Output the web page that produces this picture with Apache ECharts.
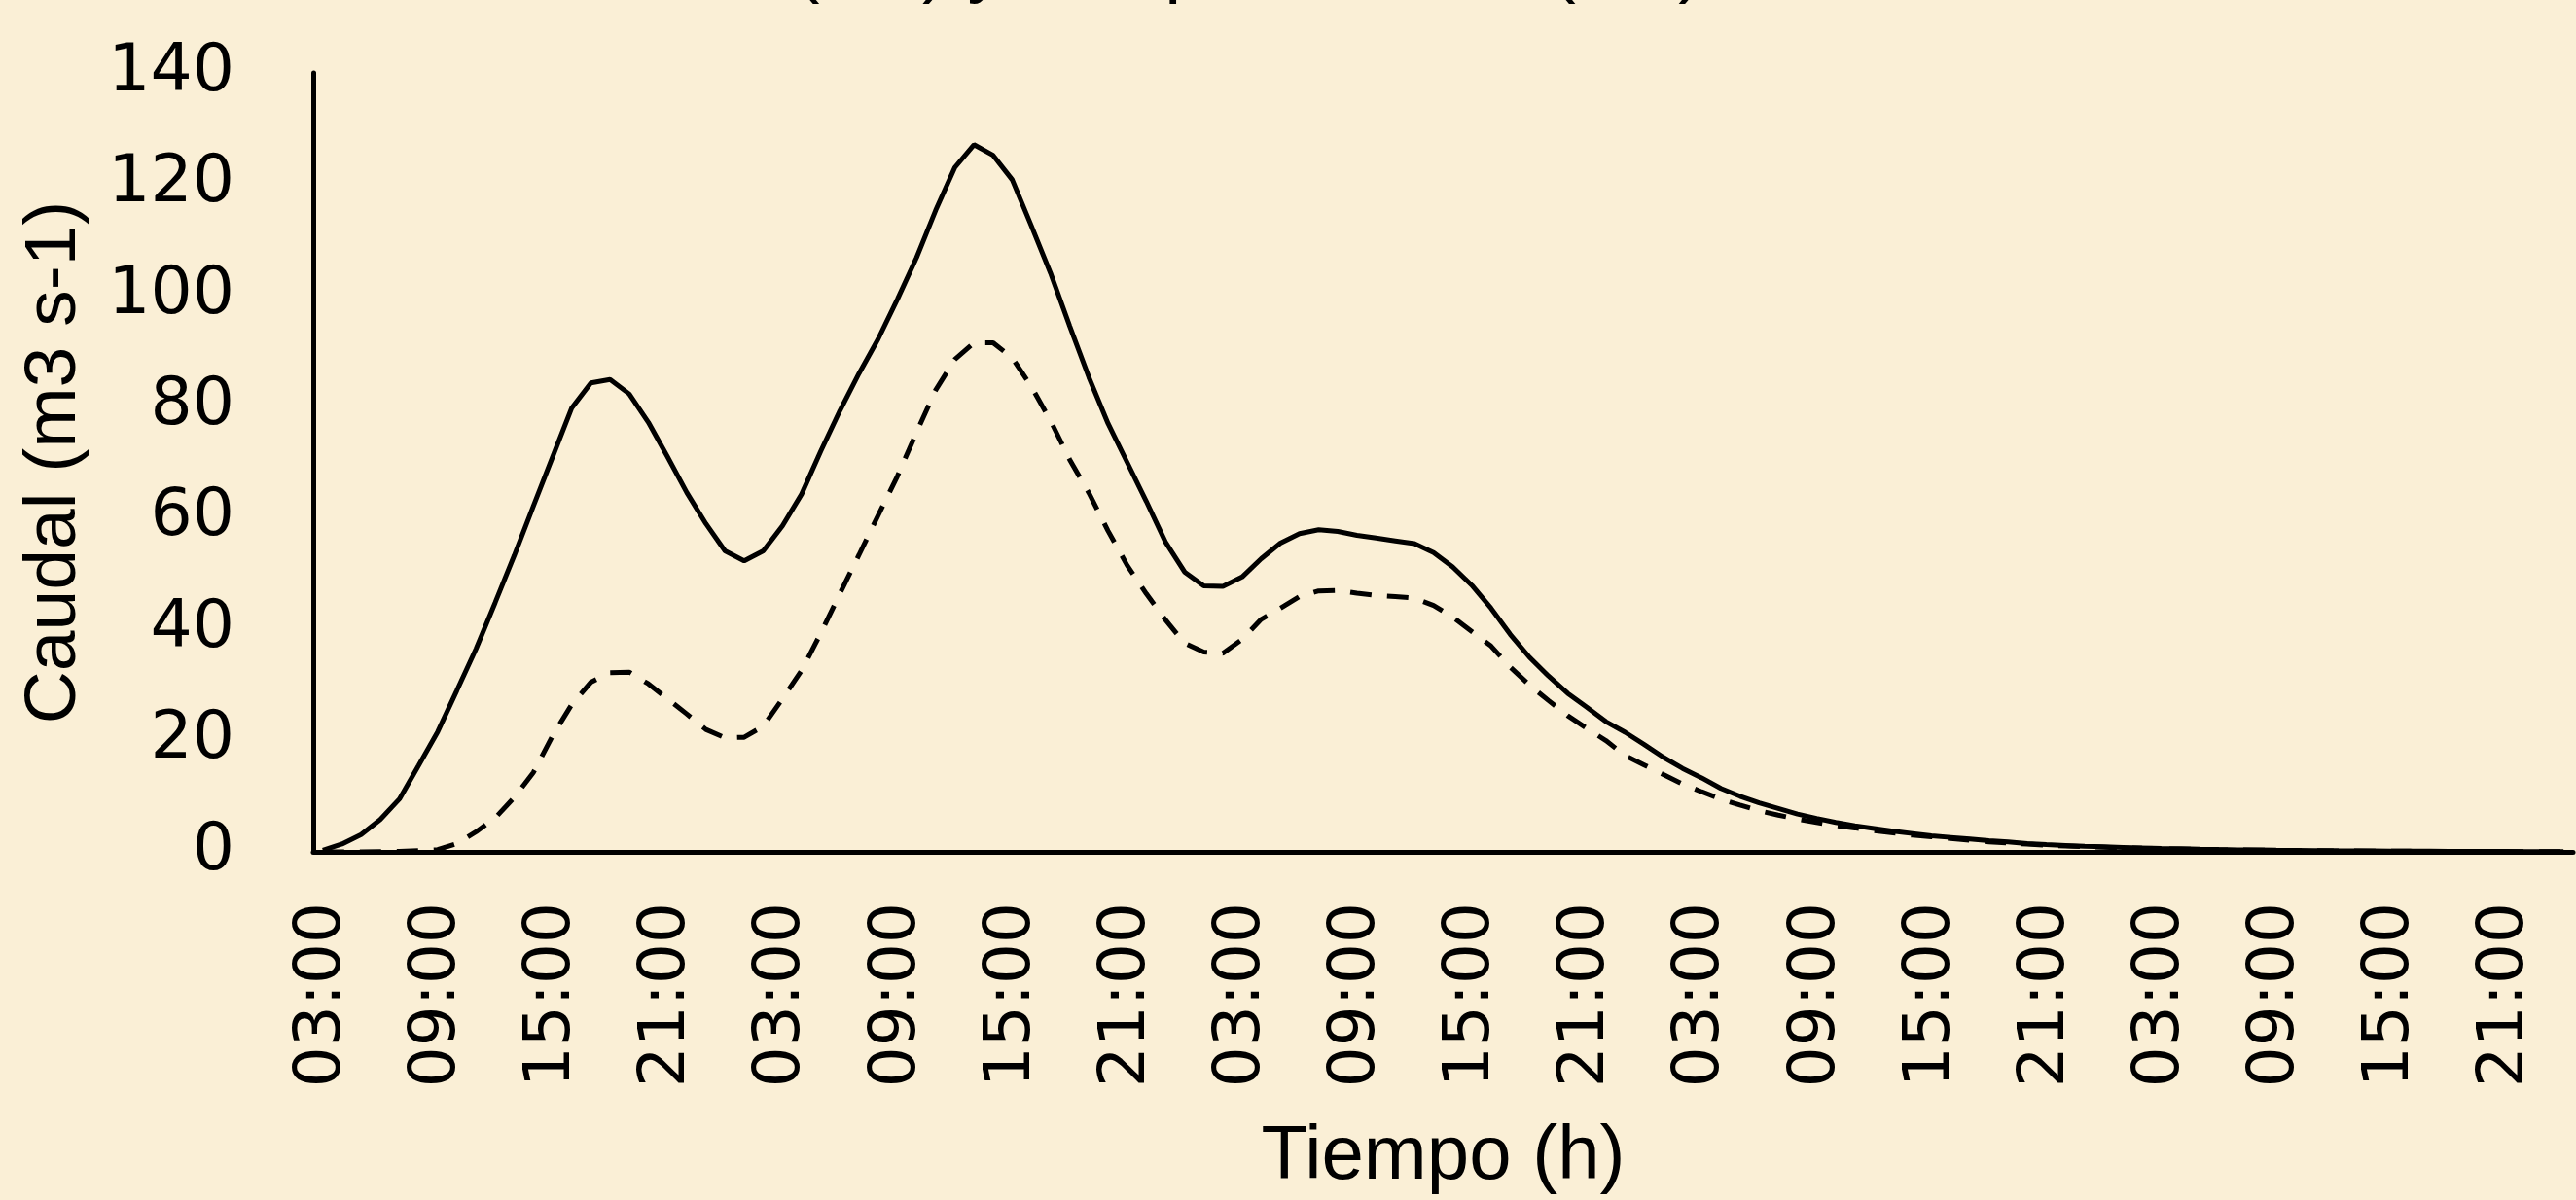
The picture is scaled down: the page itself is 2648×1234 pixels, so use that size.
<!DOCTYPE html>
<html>
<head>
<meta charset="utf-8">
<script src="https://cdn.jsdelivr.net/npm/echarts@6/dist/echarts.min.js"></script>
<style>
html, body { margin: 0; padding: 0; background: #faefd6; }
#chart { width: 2648px; height: 1234px; }
</style>
</head>
<body>
<div id="chart"></div>
<script>
// hourly series, first category is 03:00
const START_HOUR = 3
// only the bottom of the title is visible in the original
const titleText = 'Crecida, caudal (m3) y tiempo de base (hrs)'

const caudalTotal = [
    0.3, 1.4, 3.1, 5.8, 9.5, 15.5, 21.6, 29.0, 36.5, 44.8,
    53.3, 62.2, 71.0, 79.8, 84.3, 84.9, 82.3, 77.2, 71.0, 64.6,
    59.0, 54.1, 52.3, 54.1, 58.6, 64.3, 72.0, 79.3, 86.0, 92.2,
    99.3, 106.8, 115.3, 123.0, 127.1, 125.2, 120.8, 112.5, 104.0, 94.5,
    85.3, 77.0, 70.0, 63.0, 55.7, 50.3, 47.8, 47.7, 49.4, 52.7,
    55.5, 57.2, 57.9, 57.6, 56.9, 56.4, 55.9, 55.4, 53.8, 51.2,
    47.9, 43.8, 39.1, 35.0, 31.6, 28.5, 26.0, 23.4, 21.5, 19.3,
    17.0, 15.0, 13.3, 11.4, 10.0, 8.8, 7.8, 6.8, 6.0, 5.3,
    4.7, 4.2, 3.7, 3.3, 2.9, 2.6, 2.3, 2.0, 1.8, 1.5,
    1.3, 1.15, 1.0, 0.9, 0.8, 0.7, 0.62, 0.55, 0.48, 0.42,
    0.37, 0.33, 0.29, 0.26, 0.23, 0.2, 0.18, 0.16, 0.14, 0.12,
    0.11, 0.1, 0.09, 0.08, 0.07, 0.06, 0.06, 0.05
]

const caudalSuperficial = [
    0, 0, 0, 0.05, 0.1, 0.2, 0.4, 1.5, 3.6, 6.1,
    9.8, 14.3, 20.9, 26.5, 30.5, 32.2, 32.3, 30.2, 27.5, 24.8,
    22.0, 20.5, 20.6, 22.6, 27.5, 32.6, 39.3, 46.4, 53.4, 60.5,
    67.5, 75.4, 83.0, 88.5, 91.5, 91.5, 88.8, 83.6, 77.5, 70.5,
    64.5, 57.7, 51.5, 46.4, 41.7, 37.5, 35.9, 35.7, 38.2, 41.8,
    43.8, 45.9, 46.9, 47.0, 46.5, 46.1, 45.9, 45.6, 44.3, 42.2,
    39.6, 37.0, 33.2, 30.0, 27.2, 24.5, 22.2, 20.0, 17.3, 15.6,
    13.9, 12.2, 10.8, 9.5, 8.4, 7.4, 6.6, 5.9, 5.3, 4.7,
    4.3, 3.8, 3.4, 3.0, 2.7, 2.4, 2.1, 1.8, 1.6, 1.4,
    1.2, 1.05, 0.92, 0.82, 0.72, 0.64, 0.56, 0.5, 0.44, 0.38,
    0.34, 0.3, 0.26, 0.23, 0.2, 0.18, 0.16, 0.14, 0.12, 0.11,
    0.1, 0.09, 0.08, 0.07, 0.06, 0.05, 0.05, 0.04
]

const horas = caudalTotal.map((v, i) => {
    const h = (START_HOUR + i) % 24
    return (h < 10 ? '0' : '') + h + ':00'
})

const textFont = "'Liberation Sans', Arial, sans-serif"
const numFont = "'DejaVu Sans', sans-serif"

const chart = echarts.init(document.getElementById('chart'))

const option = {
    backgroundColor: '#faefd6',
    animation: false,
    // title cut off by the top edge: only descenders show
    graphic: [{
        type: 'text',
        x: 268,
        y: 5,
        silent: true,
        style: {
            text: titleText,
            fontFamily: textFont,
            fontSize: 76,
            fill: '#000',
            align: 'left',
            verticalAlign: 'bottom'
        }
    }],
    grid: {
        left: 322,
        right: 3,
        top: 75,
        bottom: 353,
        containLabel: false
    },
    xAxis: {
        type: 'category',
        data: horas,
        boundaryGap: true,
        name: 'Tiempo (h)',
        nameLocation: 'middle',
        nameGap: 275,
        nameTextStyle: {
            fontFamily: textFont,
            fontSize: 78,
            color: '#000'
        },
        axisLine: {
            lineStyle: { color: '#000', width: 5 }
        },
        axisTick: { show: false },
        axisLabel: {
            interval: 5,
            rotate: 90,
            margin: 52,
            fontFamily: numFont,
            fontSize: 66,
            color: '#000'
        },
        splitLine: { show: false }
    },
    yAxis: {
        type: 'value',
        min: 0,
        max: 140,
        interval: 20,
        name: 'Caudal (m3 s-1)',
        nameLocation: 'middle',
        nameGap: 228,
        nameTextStyle: {
            fontFamily: textFont,
            fontSize: 75,
            color: '#000'
        },
        axisLine: {
            show: true,
            lineStyle: { color: '#000', width: 5 }
        },
        axisTick: { show: false },
        axisLabel: {
            margin: 81,
            fontFamily: numFont,
            fontSize: 68,
            color: '#000'
        },
        splitLine: { show: false }
    },
    series: [
        {
            name: 'Caudal superficial',
            type: 'line',
            data: caudalSuperficial,
            showSymbol: false,
            lineStyle: { color: '#000', width: 5, type: [22, 16] }
        },
        {
            name: 'Caudal total',
            type: 'line',
            data: caudalTotal,
            showSymbol: false,
            lineStyle: { color: '#000', width: 5 }
        }
    ]
}

chart.setOption(option)
</script>
</body>
</html>
